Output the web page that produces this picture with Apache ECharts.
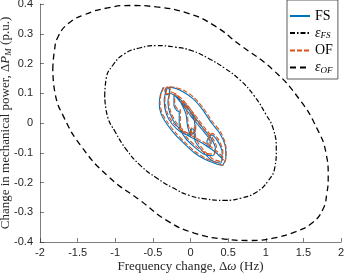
<!DOCTYPE html>
<html>
<head>
<meta charset="utf-8">
<script src="https://cdn.jsdelivr.net/npm/echarts@6/dist/echarts.min.js"></script>
<style>
  html, body { margin: 0; padding: 0; background: #fff; }
  #chart { width: 346px; height: 275px; }
</style>
</head>
<body>
<div id="chart"></div>
<script>
// tick values
const xTicks = [-2, -1.5, -1, -0.5, 0, 0.5, 1, 1.5, 2]
const yTicks = [-0.4, -0.3, -0.2, -0.1, 0, 0.1, 0.2, 0.3, 0.4]

// invariant set of FS (dash-dot)
const ellipseFS = [
  [-1.14, 0.09], [-1.12, 0.15], [-1.03, 0.195], [-0.88, 0.232], [-0.68, 0.252],
  [-0.45, 0.26], [-0.2, 0.255], [0.02, 0.243], [0.24, 0.217], [0.45, 0.185],
  [0.66, 0.144], [0.85, 0.09], [1.0, 0.03], [1.10, -0.02], [1.14, -0.09],
  [1.12, -0.15], [1.03, -0.195], [0.88, -0.232], [0.68, -0.252], [0.45, -0.26],
  [0.2, -0.255], [-0.02, -0.243], [-0.24, -0.217], [-0.45, -0.185], [-0.66, -0.144],
  [-0.85, -0.09], [-1.0, -0.03], [-1.10, 0.02], [-1.14, 0.09]
]

// invariant set of OF (dashed)
const ellipseOF = [
  [-1.83, 0.18], [-1.81, 0.24], [-1.76, 0.29], [-1.62, 0.335], [-1.4, 0.365],
  [-1.1, 0.387], [-0.8, 0.395], [-0.45, 0.39], [-0.05, 0.37], [0.3, 0.33],
  [0.66, 0.262], [1.10, 0.178], [1.455, 0.077], [1.68, -0.018], [1.80, -0.10],
  [1.83, -0.18], [1.81, -0.24], [1.76, -0.29], [1.62, -0.335], [1.4, -0.365],
  [1.1, -0.387], [0.8, -0.395], [0.45, -0.39], [0.05, -0.37], [-0.3, -0.33],
  [-0.66, -0.262], [-1.10, -0.178], [-1.455, -0.077], [-1.68, 0.018], [-1.80, 0.10],
  [-1.83, 0.18]
]

// trajectory FS
const trajFS = [
  // outer lens
  [-0.36, 0.12], [-0.40, 0.095], [-0.415, 0.065], [-0.39, 0.03], [-0.31, -0.005], [-0.2, -0.04],
  [-0.08, -0.07], [0.05, -0.1], [0.19, -0.122], [0.32, -0.135], [0.42, -0.142],
  [0.47, -0.115], [0.46, -0.075], [0.39, -0.035], [0.28, 0.0], [0.16, 0.045], [0.04, 0.08],
  [-0.1, 0.105], [-0.22, 0.118], [-0.31, 0.12],
  // small curl at the top
  [-0.34, 0.11], [-0.32, 0.095], [-0.28, 0.1], [-0.28, 0.115], [-0.31, 0.115],
  // upper lens
  [-0.35, 0.075], [-0.32, 0.03], [-0.24, -0.005], [-0.13, -0.03], [-0.02, -0.04], [0.06, -0.03],
  [0.05, 0.01], [-0.02, 0.045], [-0.12, 0.075], [-0.22, 0.095],
  // step down and middle lens
  [-0.22, 0.06], [-0.17, 0.04], [-0.15, 0.04], [-0.15, -0.01], [-0.07, -0.05], [0.05, -0.08],
  [0.18, -0.105], [0.3, -0.11], [0.33, -0.085], [0.27, -0.05], [0.16, -0.015], [0.04, 0.025],
  [-0.06, 0.055], [-0.13, 0.07],
  // lower lens
  [-0.06, 0.03], [-0.04, -0.01], [0.0, -0.045], [0.0, -0.02], [0.04, -0.02], [0.06, -0.06],
  [0.16, -0.095], [0.28, -0.125], [0.4, -0.135], [0.42, -0.1], [0.36, -0.06], [0.28, -0.04],
  [0.22, -0.06], [0.22, -0.08], [0.26, -0.08], [0.26, -0.06], [0.18, -0.03], [0.08, 0.0], [0.0, 0.025],
  // last sweep
  [-0.1, 0.06], [-0.2, 0.09], [-0.27, 0.1], [-0.3, 0.07], [-0.27, 0.03], [-0.18, -0.01],
  [-0.05, -0.04], [0.1, -0.06], [0.2, -0.075], [0.34, -0.1], [0.44, -0.125]
]

// trajectory OF
const trajOF = [
  [-0.35, 0.12], [-0.39, 0.1], [-0.405, 0.07], [-0.38, 0.035], [-0.30, 0.0], [-0.19, -0.035],
  [-0.07, -0.066], [0.06, -0.096], [0.2, -0.118], [0.33, -0.132], [0.43, -0.142],
  [0.475, -0.11], [0.465, -0.07], [0.4, -0.03], [0.29, 0.005], [0.17, 0.05], [0.05, 0.085],
  [-0.09, 0.11], [-0.21, 0.12], [-0.30, 0.122],
  [-0.335, 0.112], [-0.315, 0.098], [-0.27, 0.102], [-0.27, 0.117], [-0.30, 0.118],
  [-0.34, 0.08], [-0.31, 0.035], [-0.23, 0.0], [-0.12, -0.025], [-0.01, -0.035], [0.07, -0.025],
  [0.065, 0.015], [-0.01, 0.05], [-0.11, 0.08], [-0.21, 0.1],
  [-0.21, 0.065], [-0.16, 0.045], [-0.135, 0.045], [-0.135, -0.005], [-0.06, -0.045], [0.06, -0.075],
  [0.19, -0.1], [0.31, -0.105], [0.345, -0.08], [0.28, -0.045], [0.17, -0.01], [0.05, 0.03],
  [-0.05, 0.06], [-0.12, 0.075],
  [-0.045, 0.035], [-0.03, -0.005], [0.015, -0.04], [0.015, -0.015], [0.055, -0.015], [0.075, -0.055],
  [0.17, -0.09], [0.29, -0.12], [0.41, -0.13], [0.43, -0.095], [0.37, -0.055], [0.29, -0.035],
  [0.235, -0.055], [0.235, -0.075], [0.275, -0.075], [0.275, -0.055], [0.19, -0.025], [0.09, 0.005], [0.01, 0.03],
  [-0.09, 0.065], [-0.19, 0.095], [-0.26, 0.105], [-0.29, 0.075], [-0.26, 0.035], [-0.17, -0.005],
  [-0.04, -0.035], [0.11, -0.055], [0.21, -0.07], [0.35, -0.095], [0.45, -0.12]
]

const chart = echarts.init(document.getElementById('chart'))

const serif = '"Liberation Serif", "DejaVu Serif", serif'
const sans = '"Liberation Sans", Arial, sans-serif'
const axisColor = '#262626'

const legendRich = {
  e: { fontFamily: serif, fontStyle: 'italic', fontSize: 14, color: '#000' },
  s: { fontFamily: serif, fontStyle: 'italic', fontSize: 9, color: '#000', padding: [6, 0, 0, 0] }
}

const option = {
  animation: false,
  grid: { left: 40, right: 5, top: 4, bottom: 33, outerBoundsMode: 'none' },
  legend: {
    orient: 'vertical',
    left: 287,
    top: 0,
    padding: [9, 5, 4, 2],
    itemWidth: 20,
    itemHeight: 14,
    itemGap: 3,
    borderColor: '#333',
    borderWidth: 0.8,
    backgroundColor: '#fff',
    itemStyle: { opacity: 0 },
    data: ['FS', 'eFS', 'OF', 'eOF'],
    textStyle: { fontFamily: serif, fontSize: 14, color: '#000', rich: legendRich },
    formatter: name => {
      if (name === 'eFS') return '{e|ε}{s|FS}'
      if (name === 'eOF') return '{e|ε}{s|OF}'
      return name
    }
  },
  xAxis: {
    type: 'value',
    min: xTicks[0],
    max: xTicks[xTicks.length - 1],
    interval: 0.5,
    name: 'Frequency change, Δ{i|ω} (Hz)',
    nameLocation: 'middle',
    nameGap: 18,
    nameMoveOverlap: false,
    nameTextStyle: {
      fontFamily: serif, fontSize: 13, color: axisColor,
      rich: { i: { fontFamily: serif, fontStyle: 'italic', fontSize: 13, color: axisColor } }
    },
    axisLine: { onZero: false, lineStyle: { color: axisColor, width: 0.6 } },
    axisTick: { inside: true, length: 4, lineStyle: { color: axisColor, width: 0.6 } },
    axisLabel: { fontFamily: sans, fontSize: 11, color: axisColor, margin: 5 },
    splitLine: { show: false }
  },
  yAxis: {
    type: 'value',
    min: yTicks[0],
    max: yTicks[yTicks.length - 1],
    interval: 0.1,
    name: 'Change in mechanical power, Δ{i|P}{s|M} (p.u.)',
    nameLocation: 'middle',
    nameGap: 27,
    nameMoveOverlap: false,
    nameTextStyle: {
      fontFamily: serif, fontSize: 13, color: axisColor,
      rich: {
        i: { fontFamily: serif, fontStyle: 'italic', fontSize: 13, color: axisColor },
        s: { fontFamily: serif, fontStyle: 'italic', fontSize: 9, color: axisColor, padding: [5, 0, 0, 0] }
      }
    },
    axisLine: { show: true, onZero: false, lineStyle: { color: axisColor, width: 0.6 } },
    axisTick: { show: true, inside: true, length: 4, lineStyle: { color: axisColor, width: 0.6 } },
    axisLabel: { fontFamily: sans, fontSize: 11, color: axisColor, margin: 7 },
    splitLine: { show: false }
  },
  series: [
    {
      name: 'eFS',
      type: 'line',
      data: ellipseFS,
      smooth: 0.5,
      symbol: 'none',
      lineStyle: { color: '#000', width: 1.2, type: [5, 2, 1.5, 2] },
      itemStyle: { color: '#000' },
      z: 2
    },
    {
      name: 'eOF',
      type: 'line',
      data: ellipseOF,
      smooth: 0.5,
      symbol: 'none',
      lineStyle: { color: '#000', width: 1.3, type: [6, 4] },
      itemStyle: { color: '#000' },
      z: 2
    },
    {
      name: 'FS',
      type: 'line',
      data: trajFS,
      smooth: 0.25,
      symbol: 'none',
      lineStyle: { color: '#0072BD', width: 1.1 },
      itemStyle: { color: '#0072BD' },
      z: 3
    },
    {
      name: 'OF',
      type: 'line',
      data: trajOF,
      smooth: 0.25,
      symbol: 'none',
      lineStyle: { color: '#D95319', width: 1.1, type: [5, 2] },
      itemStyle: { color: '#D95319' },
      z: 4
    }
  ]
}

chart.setOption(option)
</script>
</body>
</html>
